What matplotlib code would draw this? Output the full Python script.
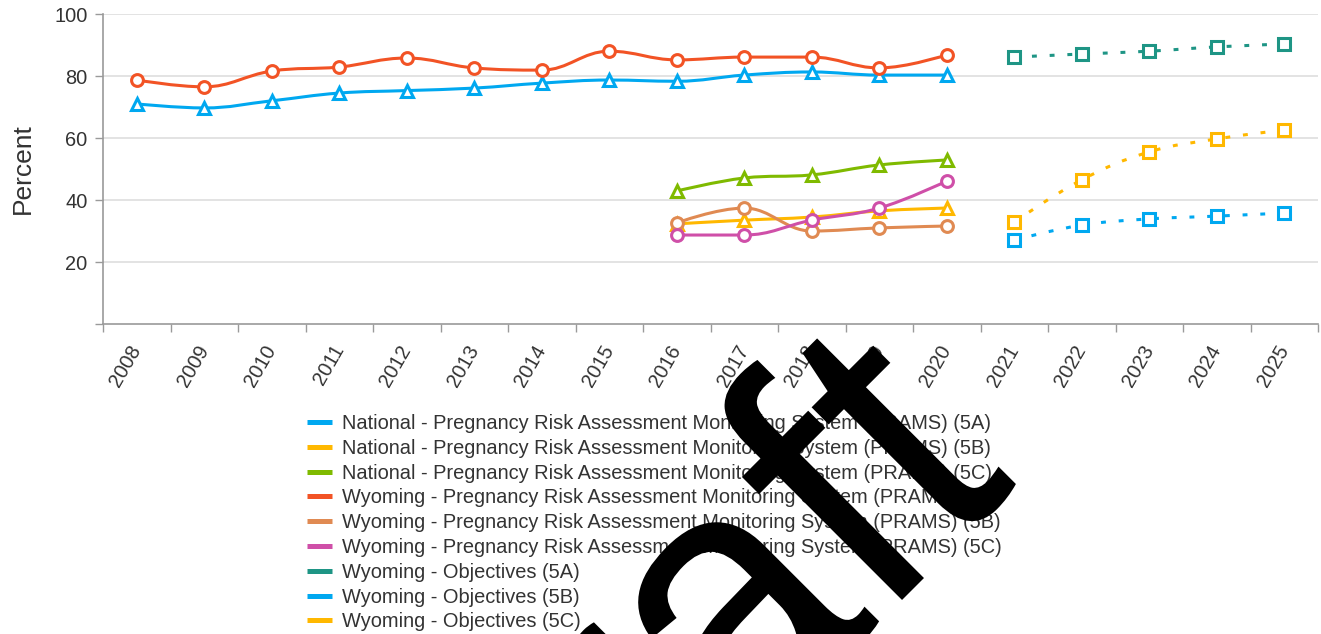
import numpy as np
import matplotlib
matplotlib.use("Agg")
import matplotlib.pyplot as plt
from matplotlib.path import Path
from matplotlib.patches import PathPatch
from matplotlib.lines import Line2D
from matplotlib.textpath import TextPath
from matplotlib.font_manager import FontProperties
import matplotlib.transforms as mtransforms

# ---- data -------------------------------------------------------------
years = [str(y) for y in range(2008, 2026)]

nat_5a = [71.0, 69.7, 72.0, 74.5, 75.3, 76.1, 77.7, 78.7, 78.3, 80.3, 81.3, 80.3, 80.3]
nat_5b = [32.3, 33.5, 34.5, 36.5, 37.4]
nat_5c = [42.9, 47.1, 48.1, 51.3, 52.9]
wy_5a = [78.7, 76.5, 81.6, 82.9, 85.8, 82.6, 81.9, 88.0, 85.2, 86.1, 86.1, 82.6, 86.8]
wy_5b = [32.6, 37.4, 30.0, 31.0, 31.6]
wy_5c = [28.7, 28.7, 33.5, 37.4, 46.1]
obj_5a = [86.1, 87.1, 88.0, 89.4, 90.3]
obj_5b = [27.1, 31.9, 33.9, 34.8, 35.8]
obj_5c = [32.9, 46.5, 55.5, 59.7, 62.6]

prams_years = years[:13]
recent_years = years[8:13]
obj_years = years[13:]

labels = [
    "National - Pregnancy Risk Assessment Monitoring System (PRAMS) (5A)",
    "National - Pregnancy Risk Assessment Monitoring System (PRAMS) (5B)",
    "National - Pregnancy Risk Assessment Monitoring System (PRAMS) (5C)",
    "Wyoming - Pregnancy Risk Assessment Monitoring System (PRAMS) (5A)",
    "Wyoming - Pregnancy Risk Assessment Monitoring System (PRAMS) (5B)",
    "Wyoming - Pregnancy Risk Assessment Monitoring System (PRAMS) (5C)",
    "Wyoming - Objectives (5A)",
    "Wyoming - Objectives (5B)",
    "Wyoming - Objectives (5C)",
]

BLUE = "#00A8F0"
YELLOW = "#FFB800"
GREEN = "#7FBA00"
RED = "#F25325"
TAN = "#E08A52"
MAGENTA = "#CF4FA8"
TEAL = "#1E9585"

series = [
    (prams_years, nat_5a, BLUE, "^", "solid"),
    (recent_years, nat_5b, YELLOW, "^", "solid"),
    (recent_years, nat_5c, GREEN, "^", "solid"),
    (prams_years, wy_5a, RED, "o", "solid"),
    (recent_years, wy_5b, TAN, "o", "solid"),
    (recent_years, wy_5c, MAGENTA, "o", "solid"),
    (obj_years, obj_5a, TEAL, "s", "dotted"),
    (obj_years, obj_5b, BLUE, "s", "dotted"),
    (obj_years, obj_5c, YELLOW, "s", "dotted"),
]


def spline_path(xs, ys, smoothing=1.5):
    """Smooth Bezier path through the points (no overshoot at extremes)."""
    denom = smoothing + 1.0
    n = len(xs)
    verts = [(xs[0], ys[0])]
    codes = [Path.MOVETO]
    right_prev = (xs[0], ys[0])
    for i in range(1, n):
        px, py = xs[i], ys[i]
        if i < n - 1:
            lx, ly = xs[i - 1], ys[i - 1]
            nx, ny = xs[i + 1], ys[i + 1]
            lcx = (smoothing * px + lx) / denom
            lcy = (smoothing * py + ly) / denom
            rcx = (smoothing * px + nx) / denom
            rcy = (smoothing * py + ny) / denom
            if rcx != lcx:
                corr = ((rcy - lcy) * (rcx - px)) / (rcx - lcx) + py - rcy
                lcy += corr
                rcy += corr
            if lcy > ly and lcy > py:
                lcy = max(ly, py)
                rcy = 2 * py - lcy
            elif lcy < ly and lcy < py:
                lcy = min(ly, py)
                rcy = 2 * py - lcy
            if rcy > ny and rcy > py:
                rcy = max(ny, py)
                lcy = 2 * py - rcy
            elif rcy < ny and rcy < py:
                rcy = min(ny, py)
                lcy = 2 * py - rcy
            left, right = (lcx, lcy), (rcx, rcy)
        else:
            left, right = (px, py), None
        verts += [right_prev, left, (px, py)]
        codes += [Path.CURVE4] * 3
        right_prev = right
    return Path(verts, codes)


# ---- figure -----------------------------------------------------------
W, H, DPI = 1321, 634, 100
plt.rcParams["font.family"] = ["Liberation Sans", "DejaVu Sans"]
TEXT = "#333333"
AXIS = "#9a9a9a"

fig = plt.figure(figsize=(W / DPI, H / DPI), dpi=DPI)
ax = fig.add_axes([103 / W, 1 - 324 / H, (1318 - 103) / W, (324 - 14) / H])

pos = {y: i for i, y in enumerate(years)}

for k, (yrs, vals, color, marker, style) in enumerate(series):
    xs = [pos[y] for y in yrs]
    path = spline_path(xs, vals)
    patch = PathPatch(path, transform=ax.transData, facecolor="none",
                      edgecolor=color, lw=2.2, zorder=3 + k * 0.01,
                      capstyle="round", joinstyle="round")
    if style == "dotted":
        patch.set_linestyle((0, (1.6, 4.2)))
        patch.set_capstyle("butt")
    ax.add_patch(patch)
    ms = {"o": 8.5, "^": 8.5, "s": 9.0}[marker]
    ax.plot(xs, vals, ls="none", marker=marker, ms=ms, mew=2.2,
            mfc="white", mec=color, zorder=3 + k * 0.01 + 0.005)

ax.set_xlim(-0.5, len(years) - 0.5)
ax.set_ylim(0, 100)

# category boundaries carry the tick marks, centres carry the labels
ax.set_xticks([i - 0.5 for i in range(len(years) + 1)])
ax.set_xticklabels([])
ax.set_xticks(range(len(years)), minor=True)
ax.set_xticklabels(years, minor=True, rotation=60, ha="right", va="center",
                   rotation_mode="anchor", fontsize=14.4, color=TEXT)
ax.tick_params(axis="x", which="major", length=6, width=1, color=AXIS, direction="out")
ax.tick_params(axis="x", which="minor", length=0, pad=16)

ax.set_yticks([0, 20, 40, 60, 80, 100])
ax.set_yticklabels(["", "20", "40", "60", "80", "100"], fontsize=14.4, color=TEXT)
ax.tick_params(axis="y", length=6, width=1, color=AXIS, pad=5)

for v in [20, 40, 60, 80, 100]:
    ax.axhline(v, color="#dedede", lw=1.2, zorder=1)

for side in ["top", "right"]:
    ax.spines[side].set_visible(False)
for side in ["left", "bottom"]:
    ax.spines[side].set_color(AXIS)
    ax.spines[side].set_linewidth(1.2)

ax.set_ylabel("Percent", fontsize=19, color=TEXT, labelpad=14)

# ---- legend -----------------------------------------------------------
handles = [Line2D([0], [0], color=s[2], lw=3.6, solid_capstyle="butt") for s in series]
leg = fig.legend(handles, labels, loc="upper left",
                 bbox_to_anchor=(307 / W, 1 - 414 / H),
                 bbox_transform=fig.transFigure, frameon=False,
                 fontsize=14.4, handlelength=1.25, handletextpad=0.5,
                 labelspacing=0.29, borderpad=0, borderaxespad=0)
for t in leg.get_texts():
    t.set_color(TEXT)

# ---- "Draft" watermark ------------------------------------------------
fp = FontProperties(family="Liberation Sans")
REF = 100.0


def glyph_points(prefix, glyph):
    """On-curve vertices of the last glyph, placed where it sits in the word."""
    full = TextPath((0, 0), prefix, size=REF, prop=fp)
    single = TextPath((0, 0), glyph, size=REF, prop=fp)
    fv = full.vertices[full.codes != Path.CLOSEPOLY]
    sv = single.vertices[single.codes != Path.CLOSEPOLY]
    offset = fv[:, 0].max() - sv[:, 0].max()
    return sv + np.array([offset, 0.0])


t_pts = glyph_points("Draft", "t")
f_pts = glyph_points("Draf", "f")
f_foot_x = f_pts[f_pts[:, 1] < 0.5][:, 0].mean()
t_right = t_pts[:, 0].max()
t_height = t_pts[:, 1].max()

# watermark size: foot of "f" to end of the "t" hook, and height of the "t"
span_px = 147.0
t_height_px = 245.0
sx = span_px / (t_right - f_foot_x)
sy = t_height_px / t_height
foot_page = (913.0, H - 589.0)

tf = (mtransforms.Affine2D()
      .translate(-f_foot_x, 0)
      .scale(sx, sy)
      .rotate_deg(45)
      .translate(*foot_page))
word = TextPath((0, 0), "Draft", size=REF, prop=fp)
mark = PathPatch(word, transform=tf, facecolor="black", edgecolor="none",
                 zorder=20, clip_on=False)
fig.add_artist(mark)

fig.savefig("out.png", dpi=DPI)
